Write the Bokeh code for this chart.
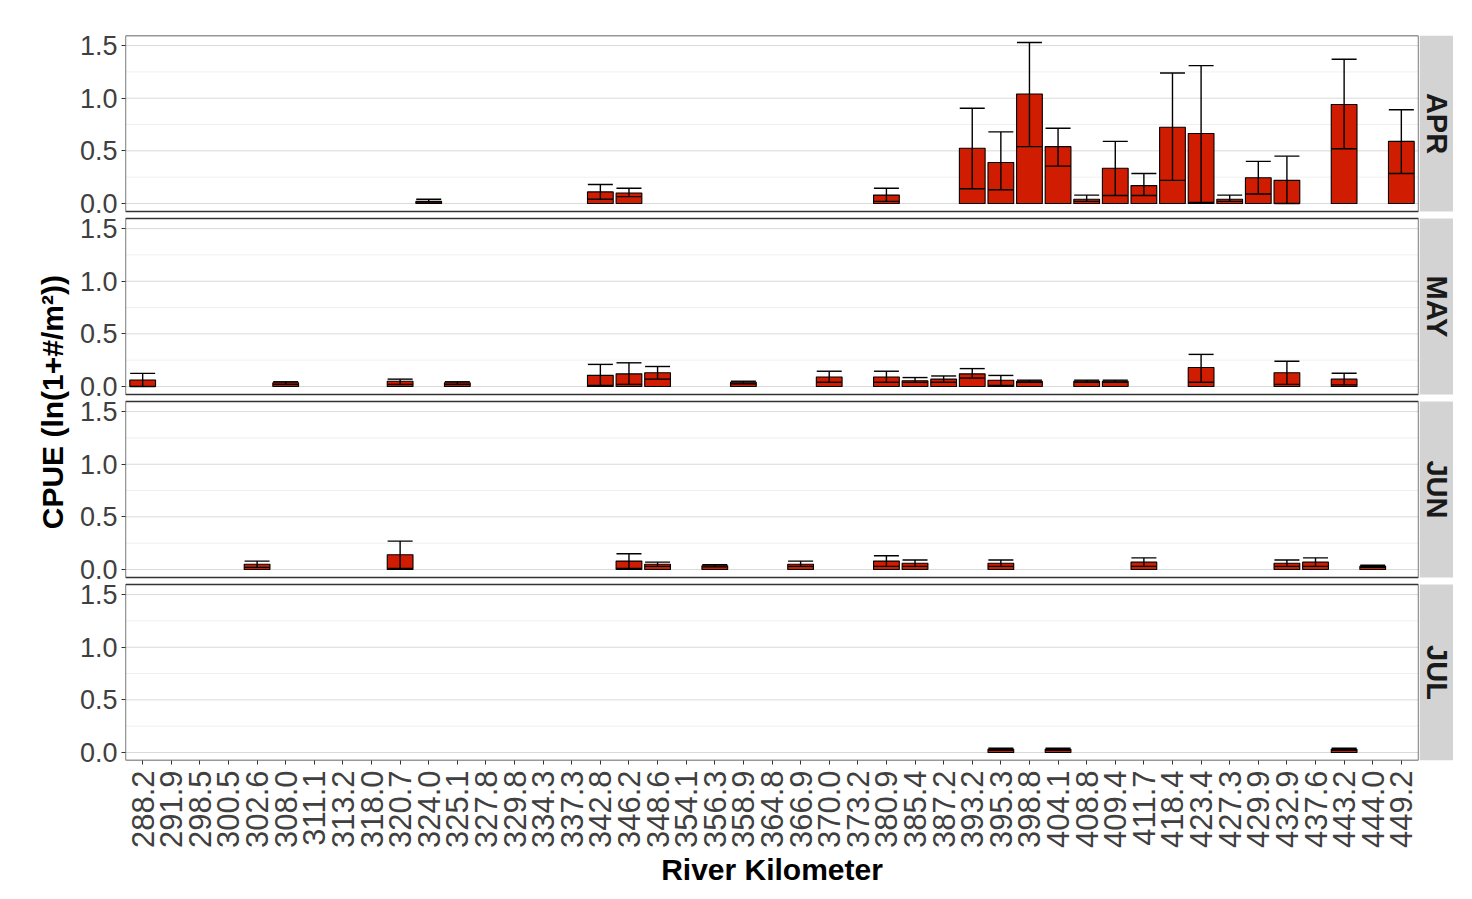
from math import pi
from bokeh.plotting import figure
from bokeh.models import (FactorRange, Range1d, FixedTicker, ColumnDataSource,
                          Whisker, TeeHead, Span, BoxAnnotation)
from bokeh.layouts import row
from bokeh.embed import file_html
from bokeh.resources import INLINE
from bokeh.core.properties import value

# ---------------- data ----------------
rkm = ["288.2", "291.9", "298.5", "300.5", "302.6", "308.0", "311.1", "313.2", "318.0",
       "320.7", "324.0", "325.1", "327.8", "329.8", "334.3", "337.3", "342.8", "346.2",
       "348.6", "354.1", "356.3", "358.9", "364.8", "366.9", "370.0", "373.2", "380.9",
       "385.4", "387.2", "393.2", "395.3", "398.8", "404.1", "408.8", "409.4", "411.7",
       "418.4", "423.4", "427.3", "429.9", "432.9", "437.6", "443.2", "444.0", "449.2"]
months = ["APR", "MAY", "JUN", "JUL"]

apr_site = ["324.0", "342.8", "346.2", "380.9", "393.2", "395.3", "398.8", "404.1", "408.8",
            "409.4", "411.7", "418.4", "423.4", "427.3", "429.9", "432.9", "443.2", "449.2"]
apr_mean = [0.02, 0.11, 0.10, 0.08, 0.525, 0.39, 1.04, 0.54, 0.04,
            0.335, 0.17, 0.725, 0.665, 0.04, 0.245, 0.22, 0.94, 0.59]
apr_lo = [0.005, 0.04, 0.065, 0.02, 0.14, 0.13, 0.54, 0.355, 0.02,
          0.076, 0.076, 0.22, 0.01, 0.02, 0.09, 0.0, 0.52, 0.285]
apr_hi = [0.04, 0.18, 0.145, 0.145, 0.905, 0.68, 1.53, 0.715, 0.08,
          0.59, 0.285, 1.24, 1.31, 0.08, 0.40, 0.45, 1.37, 0.89]

may_site = ["288.2", "308.0", "320.7", "325.1", "342.8", "346.2", "348.6", "358.9", "370.0",
            "380.9", "385.4", "387.2", "393.2", "395.3", "398.8", "408.8", "409.4", "423.4",
            "432.9", "443.2"]
may_mean = [0.062, 0.035, 0.05, 0.035, 0.106, 0.12, 0.13, 0.04, 0.09,
            0.09, 0.055, 0.07, 0.12, 0.06, 0.05, 0.05, 0.05, 0.18,
            0.13, 0.07]
may_lo = [0.0, 0.02, 0.02, 0.02, 0.01, 0.02, 0.07, 0.025, 0.04,
          0.04, 0.04, 0.04, 0.08, 0.01, 0.04, 0.04, 0.04, 0.04,
          0.02, 0.015]
may_hi = [0.125, 0.045, 0.07, 0.045, 0.21, 0.225, 0.19, 0.05, 0.145,
          0.145, 0.085, 0.10, 0.17, 0.105, 0.06, 0.06, 0.06, 0.305,
          0.24, 0.126]

jun_site = ["302.6", "320.7", "346.2", "348.6", "356.3", "366.9", "380.9", "385.4", "395.3",
            "411.7", "432.9", "437.6", "444.0"]
jun_mean = [0.05, 0.14, 0.08, 0.05, 0.035, 0.05, 0.08, 0.06, 0.06, 0.07, 0.06, 0.07, 0.03]
jun_lo = [0.02, 0.01, 0.01, 0.03, 0.025, 0.03, 0.03, 0.03, 0.03, 0.03, 0.03, 0.03, 0.02]
jun_hi = [0.08, 0.27, 0.15, 0.07, 0.045, 0.08, 0.13, 0.09, 0.09, 0.11, 0.09, 0.11, 0.04]

jul_site = ["395.3", "404.1", "443.2"]
jul_mean = [0.03, 0.03, 0.03]
jul_lo = [0.02, 0.02, 0.02]
jul_hi = [0.04, 0.04, 0.04]

y_ticks = [0.0, 0.5, 1.0, 1.5]
y_minor = [0.25, 0.75, 1.25]
y_lims = (-0.076, 1.596)

# ---------------- layout constants ----------------
FONT = "Liberation Sans"
RED = "#D01C00"
LEFT = 125
TOP = 35
BOTTOM = 135
FRAME_W = 1293
PANEL_H = 176
PANEL_STEP = 183
N = len(months)
FRAME_H = PANEL_STEP * (N - 1) + PANEL_H   # 725
STRIP_W = 34

span_v = y_lims[1] - y_lims[0]
px_per_v = PANEL_H / span_v


def band_bottom(k):
    return FRAME_H - (k * PANEL_STEP + PANEL_H)


x_range = FactorRange(factors=rkm, range_padding=0.1, range_padding_units="absolute")

p = figure(width=LEFT + FRAME_W + 1, height=TOP + FRAME_H + BOTTOM,
           x_range=x_range, y_range=Range1d(0, FRAME_H),
           toolbar_location=None, output_backend="svg", tools="",
           min_border_left=LEFT, min_border_right=1,
           min_border_top=TOP, min_border_bottom=BOTTOM)
p.outline_line_color = None
p.background_fill_color = "white"
p.border_fill_color = "white"
p.grid.grid_line_color = None
p.grid.minor_grid_line_color = None

series = [
    (apr_site, apr_mean, apr_lo, apr_hi),
    (may_site, may_mean, may_lo, may_hi),
    (jun_site, jun_mean, jun_lo, jun_hi),
    (jul_site, jul_mean, jul_lo, jul_hi),
]

tick_pos = []
tick_lab = {}
for k, (m, (st, mn, lo, hi)) in enumerate(zip(months, series)):
    bb = band_bottom(k)
    v0 = y_lims[0] - bb / px_per_v
    v1 = v0 + FRAME_H / px_per_v
    p.extra_y_ranges[m] = Range1d(v0, v1)

    # grid lines of this panel
    for t in y_minor:
        p.add_layout(Span(location=t, dimension="width", y_range_name=m,
                          line_color="#F0F0F0", line_width=1, level="underlay"))
    for t in y_ticks:
        p.add_layout(Span(location=t, dimension="width", y_range_name=m,
                          line_color="#DADADA", line_width=1, level="underlay"))
        u = round(bb + (t - y_lims[0]) * px_per_v, 3)
        tick_pos.append(u)
        tick_lab[u] = "%.1f" % t

    src = ColumnDataSource(dict(site=st, mean=mn, lo=lo, hi=hi))
    p.vbar(x="site", top="mean", bottom=0, width=0.9, source=src, y_range_name=m,
           fill_color=RED, line_color="black", line_width=1.1)
    p.add_layout(Whisker(source=src, base="site", lower="lo", upper="hi", y_range_name=m,
                         line_color="black", line_width=1.4,
                         upper_head=TeeHead(size=25, line_color="black", line_width=1.4),
                         lower_head=TeeHead(size=25, line_color="black", line_width=1.4),
                         level="overlay"))
    # panel border
    p.add_layout(BoxAnnotation(bottom=y_lims[0], top=y_lims[1], y_range_name=m,
                               fill_color=None, fill_alpha=0,
                               line_color="#333333", line_alpha=1.0, line_width=1.3,
                               level="overlay"))

ya = p.yaxis[0]
ya.ticker = FixedTicker(ticks=tick_pos, minor_ticks=[])
ya.major_label_overrides = tick_lab
ya.axis_line_color = None
ya.major_tick_line_color = "#333333"
ya.major_tick_out = 4
ya.major_tick_in = 0
ya.minor_tick_line_color = None
ya.major_label_text_font = FONT
ya.major_label_text_font_size = "27px"
ya.major_label_text_color = "#404040"
ya.major_label_standoff = 4
ya.axis_label = "CPUE  (ln(1+#/m\u00b2))"
ya.axis_label_text_font = FONT
ya.axis_label_text_font_size = "30px"
ya.axis_label_text_font_style = "bold"
ya.axis_label_text_color = "black"
ya.axis_label_standoff = 8

xa = p.xaxis[0]
xa.major_label_orientation = pi / 2
xa.axis_line_color = None
xa.major_tick_line_color = "#333333"
xa.major_tick_out = 4
xa.major_tick_in = 0
xa.major_label_text_font = FONT
xa.major_label_text_font_size = "31px"
xa.major_label_text_color = "#404040"
xa.major_label_standoff = 6
xa.axis_label = "River Kilometer"
xa.axis_label_text_font = FONT
xa.axis_label_text_font_size = "30px"
xa.axis_label_text_font_style = "bold"
xa.axis_label_text_color = "black"
xa.axis_label_standoff = 2

# ---------------- facet strips ----------------
s = figure(width=STRIP_W, height=TOP + FRAME_H + BOTTOM,
           x_range=Range1d(0, 1), y_range=Range1d(0, FRAME_H),
           x_axis_location=None, y_axis_location=None,
           toolbar_location=None, output_backend="svg", tools="",
           min_border_left=0, min_border_right=0,
           min_border_top=TOP, min_border_bottom=BOTTOM)
s.outline_line_color = None
s.background_fill_color = "white"
s.border_fill_color = "white"
s.grid.grid_line_color = None
s.grid.minor_grid_line_color = None
strip_src = ColumnDataSource(dict(
    label=months,
    bottom=[band_bottom(k) for k in range(N)],
    top=[band_bottom(k) + PANEL_H for k in range(N)],
    mid=[band_bottom(k) + PANEL_H / 2 for k in range(N)],
))
s.quad(left=0, right=1, bottom="bottom", top="top", source=strip_src,
       fill_color="#D3D3D3", line_color=None)
s.text(x=0.5, y="mid", text="label", source=strip_src, angle=-pi / 2,
       text_align="center", text_baseline="middle",
       text_font=value(FONT), text_font_style="bold",
       text_font_size="29px", text_color="#1A1A1A")

layout = row(p, s)
open("out.html", "w").write(file_html(layout, INLINE))
